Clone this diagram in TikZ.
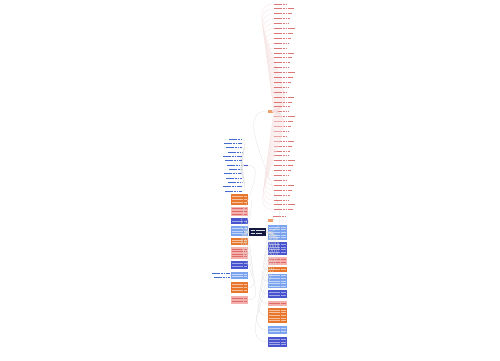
\documentclass[tikz,border=0pt]{standalone}
\usepackage{tikz}
\usepackage{xcolor}
\definecolor{mm-orange}{RGB}{232,118,44}
\definecolor{mm-pink}{RGB}{243,176,172}
\definecolor{mm-dblue}{RGB}{72,84,205}
\definecolor{mm-lblue}{RGB}{124,164,238}
\definecolor{mm-navy}{RGB}{18,26,64}
\definecolor{mm-red}{RGB}{212,84,84}
\definecolor{mm-blue}{RGB}{66,108,210}
\tikzset{
    mm-box/.style = {rectangle, inner sep=0pt, outer sep=0pt, anchor=north west},
    orange-box/.style = {mm-box, fill=mm-orange},
    pink-box/.style = {mm-box, fill=mm-pink},
    dblue-box/.style = {mm-box, fill=mm-dblue},
    lblue-box/.style = {mm-box, fill=mm-lblue},
    text-lines/.style = {line width=1pt, dash pattern=on 2.6pt off 0.35pt on 1.8pt off 0.35pt on 3.2pt off 0.35pt},
    orange-lines/.style = {text-lines, draw=white!55!mm-orange},
    pink-lines/.style = {text-lines, draw=mm-red!75!mm-pink},
    dblue-lines/.style = {text-lines, draw=white!50!mm-dblue},
    lblue-lines/.style = {text-lines, draw=white!55!mm-lblue},
    red-lines/.style = {text-lines, line width=0.9pt, draw=mm-red!80},
    blue-lines/.style = {text-lines, line width=0.9pt, draw=mm-blue},
    link/.style = {draw=gray!25, line width=0.25pt},
    red-link/.style = {draw=mm-red!18, line width=0.25pt},
}
% box of one idea: name, colour, left, top, width, height
\newcommand{\mmbox}[6]{%
    \node[#2-box, minimum width=#5pt, minimum height=#6pt] (#1) at (#3,#4) {};
    \pgfmathtruncatemacro{\nlines}{max(1,(#6-1)/2.6)}
    \foreach \i in {1,...,\nlines} {
        \pgfmathsetmacro{\ly}{#4+(#6-2.6*\nlines)/2+2.6*\i-1.3}
        \draw[#2-lines] (#3+1.2,\ly) -- ++(#5-2.4,0);
    }
}

\begin{document}
\begin{tikzpicture}[x=1pt, y=-1pt]
\useasboundingbox[fill=white] (0,0) rectangle (500,360);

% central topic
\node[mm-box, fill=mm-navy, minimum width=17pt, minimum height=8pt] (topic) at (249,228) {};
\draw[text-lines, draw=white!85!mm-navy, line width=0.8pt] (250.5,230.2) -- ++(14,0);
\draw[text-lines, draw=white!85!mm-navy, line width=0.8pt] (250.5,233.6) -- ++(11,0);

% left column
\mmbox{l1}{orange}{231}{194}{17}{11}
\mmbox{l2}{pink}{231}{207}{17}{9}
\mmbox{l3}{dblue}{231}{218}{17}{6}
\mmbox{l4}{lblue}{231}{226}{17}{10}
\mmbox{l5}{orange}{231}{238}{17}{7}
\mmbox{l6}{pink}{231}{247}{17}{12}
\mmbox{l7}{dblue}{231}{261}{17}{8}
\mmbox{l8}{lblue}{231}{272}{17}{7}
\mmbox{l9}{orange}{231}{282}{17}{11}
\mmbox{l10}{pink}{231}{296}{17}{8}
\foreach \n in {l1,l2,l3,l4,l5,l6,l7,l8,l9,l10}
    \draw[link] (topic.west) to[out=180,in=0] (\n.east);

% right column
\mmbox{r1}{lblue}{268}{225}{19}{15}
\mmbox{r2}{dblue}{268}{242}{19}{13}
\mmbox{r3}{pink}{268}{257}{19}{8}
\mmbox{r4}{orange}{268}{267}{19}{5}
\mmbox{r5}{lblue}{268}{274}{19}{14}
\mmbox{r6}{dblue}{268}{290}{19}{8}
\mmbox{r7}{pink}{268}{301}{19}{5}
\mmbox{r8}{orange}{268}{308}{19}{15}
\mmbox{r9}{lblue}{268}{326}{19}{8}
\mmbox{r10}{dblue}{268}{337}{19}{10}
\foreach \n in {r1,r2,r3,r4,r5,r6,r7,r8,r9,r10}
    \draw[link] (topic.east) to[out=0,in=180] (\n.west);

% small orange label with one red note
\node[mm-box, fill=mm-orange!70, minimum width=5pt, minimum height=3pt] (tag-low) at (268,219) {};
\node[mm-box, minimum width=12pt, minimum height=2pt] (note-low) at (273,215.5) {};
\draw[red-lines] (note-low.west) -- (note-low.east);
\draw[link] (topic.east) to[out=0,in=180] (tag-low.west);
\draw[red-link] (tag-low.east) to[out=0,in=180] (note-low.west);

% small orange label with the long red list
\node[mm-box, fill=mm-orange!70, minimum width=5pt, minimum height=3pt] (tag-top) at (267.5,109.5) {};
\draw[link] (topic.east) to[out=0,in=180] (tag-top.west);
\foreach \i in {0,...,42} {
    \pgfmathsetmacro{\ty}{4+4.9*\i}
    \pgfmathsetmacro{\tw}{13+mod(\i*7,9)}
    \node[mm-box, anchor=west, minimum width=\tw pt, minimum height=2pt] (red\i) at (274,\ty) {};
    \draw[red-lines] (red\i.west) -- (red\i.east);
    \draw[red-link] (tag-top.east) to[out=0,in=180] (red\i.west);
}

% small blue label with the blue list
\node[mm-box, anchor=west, minimum width=4pt, minimum height=2pt] (tag-left) at (243.5,165) {};
\draw[blue-lines, draw=mm-dblue] (tag-left.west) -- (tag-left.east);
\draw[link] (topic.west) to[out=180,in=0] (tag-left.east);
\foreach \i in {0,...,12} {
    \pgfmathsetmacro{\ty}{139+4.35*\i}
    \pgfmathsetmacro{\tw}{13+mod(\i*5,7)}
    \node[mm-box, anchor=east, minimum width=\tw pt, minimum height=2pt] (blue\i) at (242,\ty) {};
    \draw[blue-lines] (blue\i.west) -- (blue\i.east);
    \draw[link] (tag-left.west) to[out=180,in=0] (blue\i.east);
}

% note beside the left light blue box
\node[mm-box, anchor=north east, minimum width=18pt, minimum height=6pt] (note-far) at (230,272.5) {};
\draw[blue-lines] (212,273.8) -- ++(18,0);
\draw[blue-lines] (214,277) -- ++(16,0);
\draw[link] (l8.west) -- (note-far.east);
\end{tikzpicture}
\end{document}
